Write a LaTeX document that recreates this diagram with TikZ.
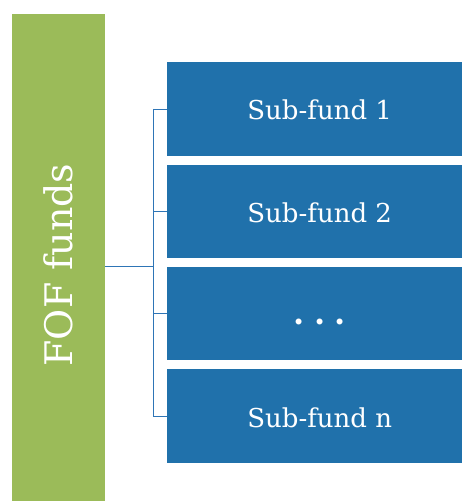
\documentclass[tikz,border=0pt]{standalone}
\usepackage{fontspec}
\setmainfont{DejaVu Serif}
\usetikzlibrary{positioning}

\definecolor{fofgreen}{HTML}{9BBB59}
\definecolor{subblue}{HTML}{2071AB}
\definecolor{linkblue}{HTML}{2E75B6}

\tikzset{
  subbox/.style={fill=subblue, minimum width=305pt, minimum height=93.5pt,
    inner sep=0pt, text height=22pt, text depth=0pt, text=white,
    font=\fontsize{26}{30}\selectfont},
  link/.style={linkblue, line width=.8pt}
}

\begin{document}
\begin{tikzpicture}[x=1pt, y=1pt]
  \useasboundingbox (0,0) rectangle (462,501);
  \clip (0,0) rectangle (462,501);

  %%fof
  \node[fill=fofgreen, minimum width=93pt, minimum height=500pt, inner sep=0pt,
    anchor=north west] (fof) at (12,487) {};
  \node[rotate=90, text=white, font=\fontsize{38}{44}\selectfont] (foflabel)
    at (58.5,236) {FOF funds};

  %%sub-funds
  \node[subbox, anchor=north west] (sub1) at (167,439) {Sub-fund 1};
    \node[subbox, below=8.5pt of sub1] (sub2) {Sub-fund 2};
    \node[subbox, below=8.5pt of sub2] (sub3)
      {\fontsize{32}{36}\selectfont\bfseries .\hspace{9pt}.\hspace{9pt}.};
    \node[subbox, below=8.5pt of sub3] (sub4) {Sub-fund n};

  %%links
  \coordinate (bus) at (153,235);
  \draw[link](fof.east |- bus) to (bus);
  \draw[link](bus |- sub1.west) to (bus |- sub4.west);
  \foreach \i in {1,...,4}
    \draw[link](bus |- sub\i.west) to (sub\i.west);

\end{tikzpicture}
\end{document}
